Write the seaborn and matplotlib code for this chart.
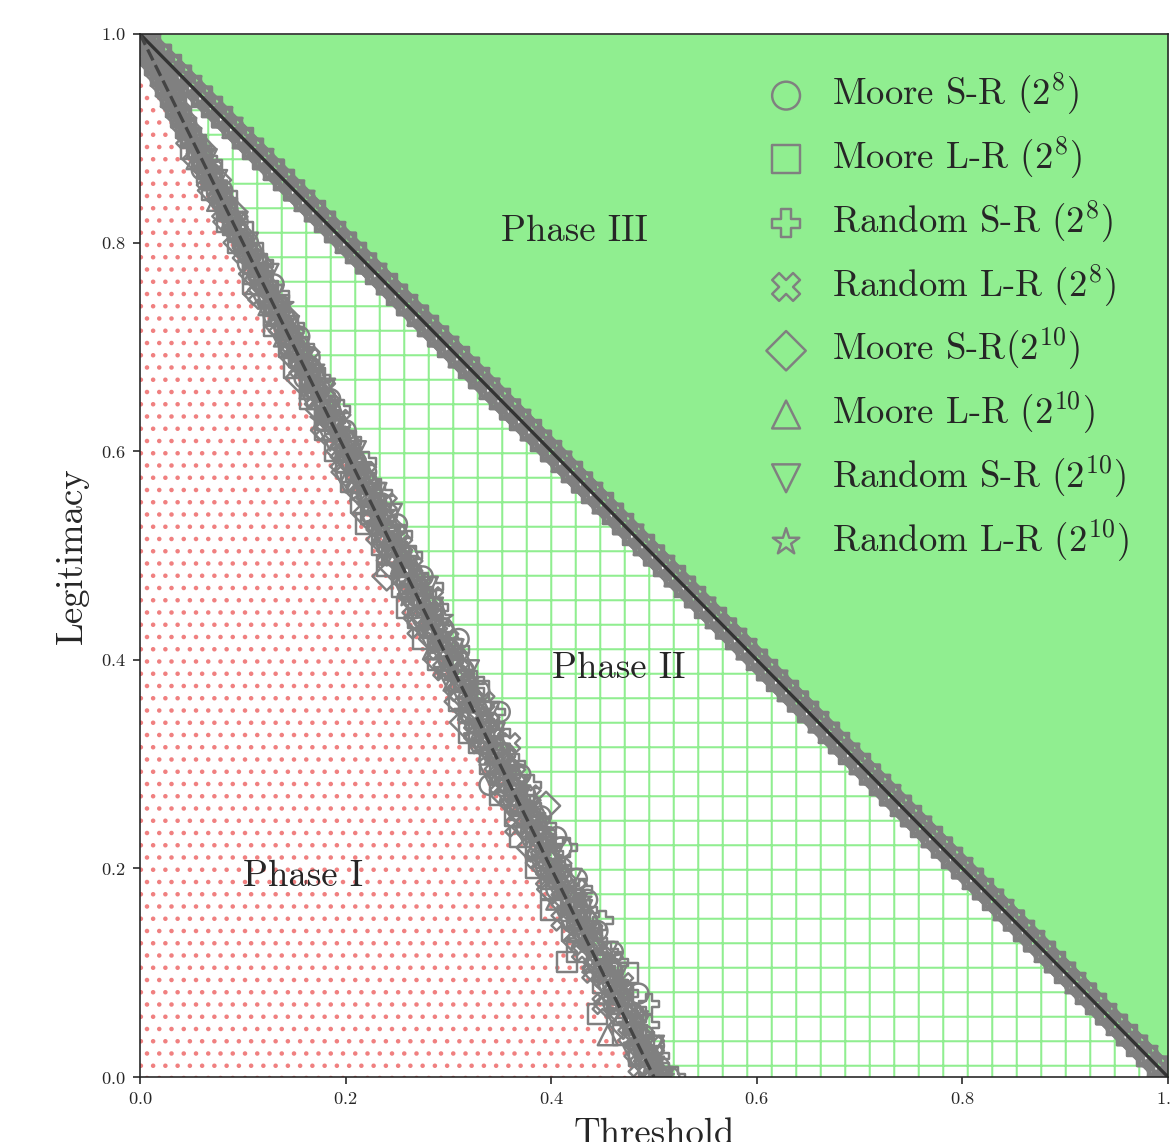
import matplotlib
matplotlib.use("Agg")
import numpy as np
import matplotlib.pyplot as plt
import seaborn as sns

# ---------------- data ----------------
legitimacy_pct = [100, 99, 98, 97, 96, 95, 94, 93, 92, 91,
                  90, 89, 88, 87, 86, 85, 84, 83, 82, 81,
                  80, 79, 78, 77, 76, 75, 74, 73, 72, 71,
                  70, 69, 68, 67, 66, 65, 64, 63, 62, 61,
                  60, 59, 58, 57, 56, 55, 54, 53, 52, 51,
                  50, 49, 48, 47, 46, 45, 44, 43, 42, 41,
                  40, 39, 38, 37, 36, 35, 34, 33, 32, 31,
                  30, 29, 28, 27, 26, 25, 24, 23, 22, 21,
                  20, 19, 18, 17, 16, 15, 14, 13, 12, 11,
                  10, 9, 8, 7, 6, 5, 4, 3, 2, 1, 0]

# Phase II / III transition threshold (percent), same for every series
upper_threshold_pct = [0, 1, 2, 3, 4, 5, 6, 7, 8, 9,
                       10, 11, 12, 13, 14, 15, 16, 17, 18, 19,
                       20, 21, 22, 23, 24, 25, 26, 27, 28, 29,
                       30, 31, 32, 33, 34, 35, 36, 37, 38, 39,
                       40, 41, 42, 43, 44, 45, 46, 47, 48, 49,
                       50, 51, 52, 53, 54, 55, 56, 57, 58, 59,
                       60, 61, 62, 63, 64, 65, 66, 67, 68, 69,
                       70, 71, 72, 73, 74, 75, 76, 77, 78, 79,
                       80, 81, 82, 83, 84, 85, 86, 87, 88, 89,
                       90, 91, 92, 93, 94, 95, 96, 97, 98, 99, 100]

# Phase I / II transition threshold (thousandths), per series
moore_sr_8 = [0, 5, 10, 15, 20, 25, 30, 35, 40, 45,
              50, 60, 60, 60, 70, 80, 80, 85, 95, 95,
              105, 105, 105, 120, 130, 125, 135, 130, 140, 155,
              155, 165, 160, 160, 175, 185, 185, 185, 200, 200,
              200, 210, 220, 220, 215, 235, 235, 250, 250, 245,
              260, 260, 275, 270, 270, 285, 275, 295, 310, 300,
              300, 315, 315, 330, 325, 350, 340, 335, 335, 355,
              355, 370, 340, 375, 370, 390, 385, 405, 410, 395,
              405, 425, 405, 435, 420, 435, 445, 440, 460, 445,
              460, 460, 485, 465, 480, 480, 490, 500, 495, 505, 515]
moore_lr_8 = [0, 5, 10, 15, 20, 25, 30, 35, 40, 45,
              50, 50, 60, 70, 70, 70, 85, 85, 85, 100,
              95, 110, 110, 110, 110, 125, 135, 130, 130, 145,
              145, 155, 150, 170, 165, 165, 180, 180, 180, 200,
              190, 200, 210, 205, 225, 215, 225, 220, 240, 235,
              245, 240, 260, 255, 275, 260, 270, 285, 275, 290,
              290, 310, 315, 330, 310, 320, 330, 320, 330, 350,
              340, 350, 365, 350, 370, 365, 385, 370, 385, 395,
              385, 400, 400, 420, 400, 425, 420, 440, 425, 415,
              475, 450, 470, 465, 445, 480, 470, 490, 485, 495, 505]
random_sr_8 = [0, 5, 10, 15, 20, 25, 30, 35, 40, 45,
               55, 55, 65, 65, 65, 75, 85, 85, 90, 90,
               100, 110, 120, 115, 125, 135, 130, 140, 150, 145,
               160, 155, 165, 175, 170, 180, 195, 190, 190, 205,
               205, 220, 210, 225, 235, 230, 240, 235, 255, 250,
               265, 260, 270, 285, 270, 290, 285, 295, 290, 310,
               305, 300, 325, 325, 320, 345, 335, 350, 335, 355,
               365, 360, 380, 365, 380, 370, 395, 395, 415, 400,
               410, 405, 430, 420, 435, 450, 430, 445, 455, 465,
               450, 465, 475, 495, 475, 495, 490, 485, 505, 505, 520]
random_lr_8 = [0, 5, 10, 15, 20, 25, 30, 35, 40, 45,
               45, 55, 60, 70, 65, 75, 80, 80, 95, 95,
               100, 100, 115, 115, 120, 115, 135, 135, 135, 150,
               145, 165, 155, 165, 180, 170, 180, 195, 180, 195,
               205, 195, 220, 210, 220, 240, 225, 240, 230, 255,
               240, 265, 255, 270, 285, 265, 285, 270, 300, 290,
               310, 295, 315, 310, 335, 320, 340, 325, 360, 345,
               345, 365, 350, 380, 365, 380, 365, 395, 390, 385,
               410, 395, 425, 410, 425, 410, 440, 435, 430, 460,
               440, 470, 460, 450, 480, 480, 475, 500, 490, 485, 505]
moore_sr_10 = [0, 5, 10, 15, 20, 25, 30, 35, 40, 45,
               50, 60, 55, 65, 75, 70, 80, 90, 85, 95,
               95, 105, 115, 110, 120, 115, 130, 140, 135, 145,
               150, 150, 165, 155, 170, 180, 175, 185, 180, 200,
               195, 205, 200, 220, 215, 225, 220, 240, 240, 240,
               250, 245, 240, 265, 265, 280, 270, 285, 285, 300,
               290, 305, 315, 310, 310, 325, 315, 340, 335, 345,
               355, 350, 360, 355, 395, 375, 375, 390, 380, 395,
               395, 410, 400, 415, 425, 420, 430, 425, 445, 445,
               445, 455, 465, 455, 470, 470, 485, 485, 485, 495, 500]
moore_lr_10 = [0, 5, 10, 15, 20, 25, 30, 35, 40, 45,
               55, 55, 55, 70, 70, 75, 75, 90, 90, 100,
               100, 115, 110, 110, 125, 130, 125, 145, 140, 140,
               155, 155, 170, 170, 165, 175, 190, 180, 195, 205,
               200, 215, 205, 220, 230, 225, 235, 245, 235, 250,
               255, 255, 270, 260, 280, 280, 280, 300, 295, 285,
               315, 310, 305, 325, 320, 335, 335, 330, 350, 345,
               360, 355, 365, 360, 385, 380, 380, 395, 385, 400,
               400, 415, 415, 405, 425, 440, 425, 440, 450, 440,
               455, 465, 455, 475, 470, 480, 455, 490, 490, 505, 505]
random_sr_10 = [0, 5, 10, 15, 20, 25, 30, 35, 40, 45,
                50, 55, 65, 60, 75, 75, 80, 80, 95, 90,
                105, 100, 110, 125, 115, 130, 120, 135, 145, 140,
                140, 160, 160, 160, 180, 165, 185, 180, 190, 185,
                210, 200, 215, 200, 230, 220, 245, 225, 245, 240,
                240, 260, 255, 280, 260, 285, 270, 290, 280, 305,
                295, 320, 300, 320, 315, 340, 320, 345, 325, 350,
                350, 340, 370, 370, 360, 375, 390, 375, 405, 400,
                390, 420, 405, 415, 430, 415, 435, 430, 455, 445,
                465, 450, 470, 470, 460, 485, 480, 500, 480, 500, 510]
random_lr_10 = [0, 5, 10, 15, 20, 25, 30, 35, 40, 45,
                45, 60, 60, 65, 65, 80, 80, 85, 85, 95,
                100, 105, 105, 120, 120, 125, 140, 130, 140, 150,
                150, 150, 170, 165, 165, 180, 180, 175, 195, 195,
                195, 210, 210, 225, 210, 230, 230, 230, 250, 245,
                255, 250, 270, 265, 260, 280, 295, 280, 290, 305,
                300, 295, 320, 315, 325, 315, 330, 345, 335, 335,
                360, 350, 365, 355, 375, 385, 375, 385, 400, 390,
                405, 400, 410, 430, 415, 425, 440, 425, 440, 455,
                445, 465, 465, 460, 485, 475, 490, 480, 500, 495, 510]

series_labels = [r"Moore S-R ($2^{8}$)", r"Moore L-R ($2^{8}$)",
                 r"Random S-R ($2^{8}$)", r"Random L-R ($2^{8}$)",
                 r"Moore S-R($2^{10}$)", r"Moore L-R ($2^{10}$)",
                 r"Random S-R ($2^{10}$)", r"Random L-R ($2^{10}$)"]
series_lower = [moore_sr_8, moore_lr_8, random_sr_8, random_lr_8,
                moore_sr_10, moore_lr_10, random_sr_10, random_lr_10]
series_markers = ["o", "s", "P", "X", "D", "^", "v", "*"]

# phase boundary lines (Threshold, Legitimacy)
upper_boundary_T = [0.0, 1.0]
upper_boundary_L = [1.0, 0.0]
lower_boundary_T = [0.0, 0.5]
lower_boundary_L = [1.0, 0.0]

phase_labels = ["Phase I", "Phase II", "Phase III"]
phase_label_T = [0.159, 0.466, 0.423]
phase_label_L = [0.192, 0.392, 0.811]

# ---------------- style ----------------
sns.set_style("ticks")
plt.rcParams["font.family"] = ["cmr10"]
plt.rcParams["mathtext.fontset"] = "cm"
plt.rcParams["axes.formatter.use_mathtext"] = True
plt.rcParams["axes.unicode_minus"] = False
plt.rcParams["hatch.linewidth"] = 1.0

DPI = 147
fig = plt.figure(figsize=(1171 / DPI, 1142 / DPI), dpi=DPI)
ax = fig.add_axes([140 / 1171, 65 / 1142, 1028 / 1171, 1043 / 1142])

L = np.array(legitimacy_pct) / 100.0
T_up = np.array(upper_threshold_pct) / 100.0

# phase regions
ax.fill_between(upper_boundary_T, upper_boundary_L, 1.0,
                facecolor="lightgreen", edgecolor="lightgreen", linewidth=0, zorder=0)
ax.fill(upper_boundary_T + [lower_boundary_T[1]],
        upper_boundary_L + [lower_boundary_L[1]],
        facecolor="white", edgecolor="lightgreen", hatch="+", linewidth=0, zorder=0)
ax.fill(lower_boundary_T + [0.0], lower_boundary_L + [0.0],
        facecolor="white", edgecolor="lightcoral", hatch="..", linewidth=0, zorder=0)

# markers
for lab, low, m in zip(series_labels, series_lower, series_markers):
    x = np.concatenate([T_up, np.array(low) / 1000.0])
    y = np.concatenate([L, L])
    sns.scatterplot(x=x, y=y, marker=m, s=95, color="grey",
                    facecolor="none", edgecolor="grey", linewidth=1.2,
                    label=lab, ax=ax, zorder=3, legend=False)

# boundary lines
sns.lineplot(x=upper_boundary_T, y=upper_boundary_L, color="#333333",
             linewidth=1.6, ax=ax, zorder=4)
sns.lineplot(x=lower_boundary_T, y=lower_boundary_L, color="#444444",
             linewidth=1.6, linestyle="--", ax=ax, zorder=4)

for txt, tx, ly in zip(phase_labels, phase_label_T, phase_label_L):
    ax.text(tx, ly, txt, fontsize=18, ha="center", va="center", zorder=5)

ax.set_xlim(0, 1)
ax.set_ylim(0, 1)
ax.set_xticks([0.0, 0.2, 0.4, 0.6, 0.8, 1.0])
ax.set_yticks([0.0, 0.2, 0.4, 0.6, 0.8, 1.0])
ax.tick_params(labelsize=9, direction="out", length=3.5, width=0.8)
ax.set_xlabel("Threshold", fontsize=18, labelpad=5)
ax.set_ylabel("Legitimacy", fontsize=18, labelpad=6)
for sp in ax.spines.values():
    sp.set_linewidth(0.8)
    sp.set_zorder(6)

leg = ax.legend(loc="upper right", bbox_to_anchor=(1 - 6 / 1028, 1 - 4 / 1043),
                frameon=False, fontsize=18, labelspacing=0.48,
                markerscale=1.4, handlelength=1.0, handletextpad=0.75,
                scatterpoints=1)

fig.savefig("out.png", dpi=DPI)
